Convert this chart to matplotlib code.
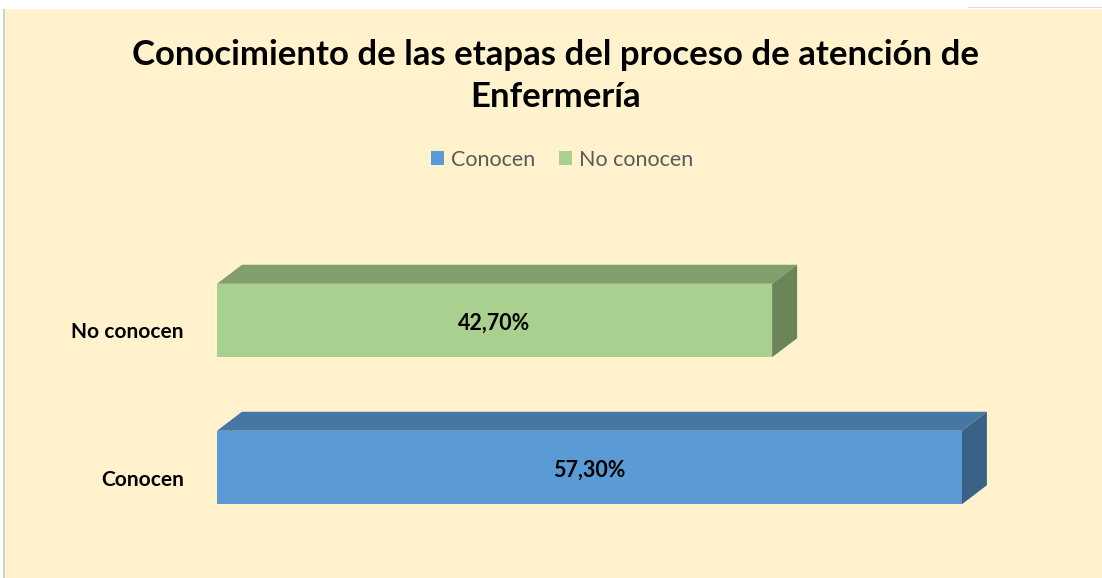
import matplotlib
matplotlib.use('Agg')
import matplotlib.pyplot as plt
from matplotlib.patches import Polygon, Rectangle
from matplotlib.transforms import ScaledTranslation

# data
categories = ['Conocen', 'No conocen']
values = [57.3, 42.7]
value_labels = ['57,30%', '42,70%']
title = 'Conocimiento de las etapas del proceso de atención de\nEnfermería'

# colours: front, top, side
front_colors = ['#5B9BD5', '#A9D08E']
top_colors = ['#4676A3', '#819F6C']
side_colors = ['#3A6287', '#6B8559']
bg = '#FFF2CC'

W, H = 1102, 578
fig = plt.figure(figsize=(W / 100, H / 100), dpi=100, facecolor='white')

# cream chart area with thin grey left border
fig.patches.append(Rectangle((4 / W, 0), 1 - 4 / W, (H - 9) / H,
                             transform=fig.transFigure, facecolor=bg,
                             edgecolor='none', zorder=-5))
fig.patches.append(Rectangle((3 / W, 0), 1.5 / W, (H - 9) / H,
                             transform=fig.transFigure, facecolor='#D0D0D0',
                             edgecolor='none', zorder=-5))
fig.patches.append(Rectangle((968 / W, (H - 8) / H), 1 - 968 / W, 1.5 / H,
                             transform=fig.transFigure, facecolor='#DADADA',
                             edgecolor='none', zorder=-5))

# axes in pixel layout
left, right = 217, 997
top, bottom = 230, 540
ax = fig.add_axes([left / W, 1 - bottom / H, (right - left) / W, (bottom - top) / H])
ax.set_facecolor('none')
ax.set_xlim(0, 60)
ypos = [0, 1]
ax.set_ylim(-(bottom - 467.5) / 147, 1 + (320.5 - top) / 147)
for s in ax.spines.values():
    s.set_visible(False)
ax.set_xticks([])

bar_h = 0.5
dx = 25 / 13.0    # depth in x (data units)
dy = 19 / 147.0   # depth in y (data units)

for i, (y, v) in enumerate(zip(ypos, values)):
    y0, y1 = y - bar_h / 2, y + bar_h / 2
    ax.barh(y, v, height=bar_h, color=front_colors[i], edgecolor='none', zorder=3)
    ax.add_patch(Polygon([(0, y1), (v, y1), (v + dx, y1 + dy), (dx, y1 + dy)],
                         closed=True, facecolor=top_colors[i], edgecolor='none',
                         zorder=2, clip_on=False))
    ax.add_patch(Polygon([(v, y0), (v + dx, y0 + dy), (v + dx, y1 + dy), (v, y1)],
                         closed=True, facecolor=side_colors[i], edgecolor='none',
                         zorder=2, clip_on=False))
    ax.text(v / 2, y - 0.02, value_labels[i], ha='center', va='center',
            fontsize=15.5, fontweight='bold', family='Lato', color='black', zorder=4)

ax.set_yticks(ypos)
ax.set_yticklabels(categories, fontsize=15, fontweight='bold', family='Lato')
ax.tick_params(axis='y', length=0, pad=24)
for lab in ax.get_yticklabels():
    lab.set_transform(lab.get_transform() + ScaledTranslation(0, -0.10, fig.dpi_scale_trans))

# title
fig.text(556 / W, 1 - 76 / H, title, ha='center', va='center', fontsize=25,
         fontweight='bold', family='Lato', color='black', linespacing=1.4)

# legend
handles = [Rectangle((0, 0), 1, 1, facecolor=c, edgecolor='none') for c in front_colors]
fig.legend(handles, categories, loc='center', bbox_to_anchor=(562 / W, 1 - 160 / H),
           ncol=2, frameon=False, handlelength=0.62, handleheight=0.62,
           handletextpad=0.3, columnspacing=1.1, labelcolor='#595959',
           prop={'family': 'Lato', 'size': 15.5})

fig.savefig('out.png', dpi=100, facecolor=fig.get_facecolor())
